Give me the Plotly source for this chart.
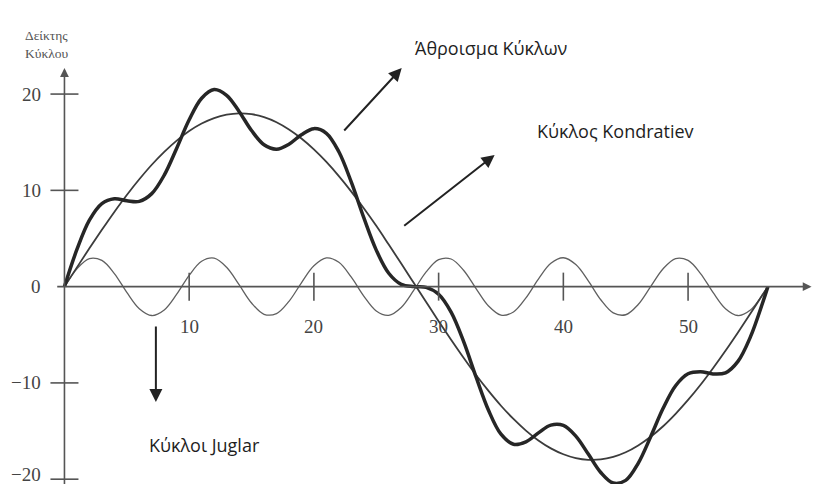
import plotly.graph_objects as go

# ---- data ----
years = [0, 1, 2, 3, 4, 5, 6, 7, 8, 9, 10, 11, 12, 13, 14, 15, 16, 17, 18, 19,
         20, 21, 22, 23, 24, 25, 26, 27, 28, 29, 30, 31, 32, 33, 34, 35, 36, 37,
         38, 39, 40, 41, 42, 43, 44, 45, 46, 47, 48, 49, 50, 51, 52, 53, 54, 55,
         56, 56.4]

kondratiev = [0, 2.0, 3.98, 5.9, 7.76, 9.52, 11.15, 12.66, 14.0, 15.17, 16.16,
              16.94, 17.51, 17.86, 18.0, 17.91, 17.6, 17.07, 16.32, 15.38, 14.25,
              12.95, 11.48, 9.87, 8.14, 6.32, 4.37, 2.4, 0.4, -1.6, -3.59, -5.52,
              -7.39, -9.18, -10.83, -12.37, -13.74, -14.95, -15.98, -16.8, -17.41,
              -17.81, -17.99, -17.95, -17.68, -17.2, -16.49, -15.59, -14.5, -13.21,
              -11.77, -10.19, -8.47, -6.66, -4.76, -2.8, -0.8, 0]

juglar = [0, 1.86, 2.92, 2.72, 1.36, -0.6, -2.29, -3.0, -2.42, -0.79, 1.17, 2.63,
          2.96, 2.01, 0.2, -1.7, -2.87, -2.8, -1.53, 0.4, 2.16, 2.98, 2.53, 0.98,
          -0.98, -2.53, -2.98, -2.16, -0.4, 1.53, 2.8, 2.87, 1.7, -0.2, -2.01,
          -2.96, -2.63, -1.17, 0.79, 2.42, 3.0, 2.29, 0.6, -1.36, -2.72, -2.92,
          -1.86, 0, 1.86, 2.92, 2.72, 1.36, -0.6, -2.29, -3.0, -2.42, -0.79, 0]

total = [0, 3.86, 6.9, 8.62, 9.12, 8.92, 8.86, 9.66, 11.58, 14.38, 17.33, 19.57,
         20.47, 19.87, 18.2, 16.21, 14.73, 14.27, 14.79, 15.78, 16.41, 15.93,
         14.01, 10.85, 7.16, 3.79, 1.39, 0.24, 0.0, -0.07, -0.79, -2.65, -5.69,
         -9.38, -12.84, -15.33, -16.37, -16.12, -15.19, -14.38, -14.41, -15.52,
         -17.39, -19.3, -20.4, -20.12, -18.35, -15.59, -12.64, -10.29, -9.05,
         -8.83, -9.07, -8.95, -7.76, -5.22, -1.59, 0]

x_ticks = [10, 20, 30, 40, 50]
x_tick_labels = ["10", "20", "30", "40", "50"]
y_ticks = [20, 10, 0, -10, -20]
y_tick_labels = ["20", "10", "0", "−10", "−20"]
y_tick_marks = [20, 10, -10, -20]

axis_title = "Δείκτης<br>Κύκλου"
label_sum = "Άθροισμα Κύκλων"
label_kond = "Κύκλος Kondratiev"
label_jug = "Κύκλοι Juglar"

# ---- figure ----
fig = go.Figure()

fig.add_trace(go.Scatter(x=years, y=juglar, mode="lines",
                         line=dict(color="#606060", width=1.3, shape="spline"),
                         hoverinfo="skip"))
fig.add_trace(go.Scatter(x=years, y=kondratiev, mode="lines",
                         line=dict(color="#3c3c3c", width=1.8, shape="spline"),
                         hoverinfo="skip"))
fig.add_trace(go.Scatter(x=years, y=total, mode="lines",
                         line=dict(color="#262626", width=3.5, shape="spline"),
                         hoverinfo="skip"))

# tick marks crossing the axes
fig.add_trace(go.Scatter(x=x_ticks, y=[0] * len(x_ticks), mode="markers",
                         marker=dict(symbol="line-ns", size=20,
                                     line=dict(color="#555", width=1.6)),
                         hoverinfo="skip"))
fig.add_trace(go.Scatter(x=[0] * len(y_tick_marks), y=y_tick_marks, mode="markers",
                         marker=dict(symbol="line-ew", size=20,
                                     line=dict(color="#555", width=1.6)),
                         hoverinfo="skip"))

annotations = []
# axis lines with arrow heads
annotations.append(dict(x=0, y=22.7, ax=0, ay=-21.3, xref="x", yref="y",
                        axref="x", ayref="y", text="", showarrow=True,
                        arrowhead=2, arrowsize=1.1, arrowwidth=1.6,
                        arrowcolor="#555"))
annotations.append(dict(x=59.9, y=0, ax=-0.7, ay=0, xref="x", yref="y",
                        axref="x", ayref="y", text="", showarrow=True,
                        arrowhead=2, arrowsize=1.1, arrowwidth=1.6,
                        arrowcolor="#555"))

num_font = dict(family="Liberation Serif", size=19, color="#444")
y_min_tick = min(y_ticks)
for v, t in zip(y_ticks, y_tick_labels):
    annotations.append(dict(x=0, y=v, xref="x", yref="y", text=t,
                            showarrow=False, xanchor="right", yanchor="middle",
                            xshift=-21, yshift=(5 if v == y_min_tick else 0),
                            font=num_font))
for v, t in zip(x_ticks, x_tick_labels):
    annotations.append(dict(x=v, y=0, xref="x", yref="y", text=t,
                            showarrow=False, xanchor="center", yanchor="middle",
                            yshift=-40, font=num_font))

annotations.append(dict(x=-3.35, y=25.1, xref="x", yref="y",
                        text=axis_title, showarrow=False, xanchor="left",
                        yanchor="middle", align="left",
                        font=dict(family="Liberation Serif", size=13.5, color="#555")))

# pointer arrows
arrow_style = dict(text="", showarrow=True, arrowhead=2, arrowsize=1.3,
                   arrowwidth=2, arrowcolor="#222", xref="x", yref="y",
                   axref="x", ayref="y")
annotations.append(dict(x=27.04, y=22.71, ax=22.32, ay=16.06, **arrow_style))
annotations.append(dict(x=34.49, y=13.68, ax=27.12, ay=6.2, **arrow_style))
annotations.append(dict(x=7.33, y=-11.97, ax=7.33, ay=-3.98, **arrow_style))

lab_font = dict(family="Open Sans", size=18, color="#1e1e1e")
annotations.append(dict(x=27.92, y=24.79, xref="x", yref="y", text=label_sum,
                        showarrow=False, xanchor="left", yanchor="middle",
                        font=lab_font))
annotations.append(dict(x=37.7, y=16.17, xref="x", yref="y", text=label_kond,
                        showarrow=False, xanchor="left", yanchor="middle",
                        font=lab_font))
annotations.append(dict(x=6.61, y=-16.43, xref="x", yref="y", text=label_jug,
                        showarrow=False, xanchor="left", yanchor="middle",
                        font=lab_font))

# ranges chosen so that the page (with its 8px body margin) lines up with the reference
fig.update_layout(
    width=822, height=484,
    margin=dict(l=0, r=0, t=0, b=0),
    paper_bgcolor="white", plot_bgcolor="white",
    showlegend=False, hovermode=False,
    xaxis=dict(range=[-4.527, 61.38], visible=False, fixedrange=True),
    yaxis=dict(range=[-21.33, 28.94], visible=False, fixedrange=True),
    annotations=annotations,
)

fig.write_html("out.html")
